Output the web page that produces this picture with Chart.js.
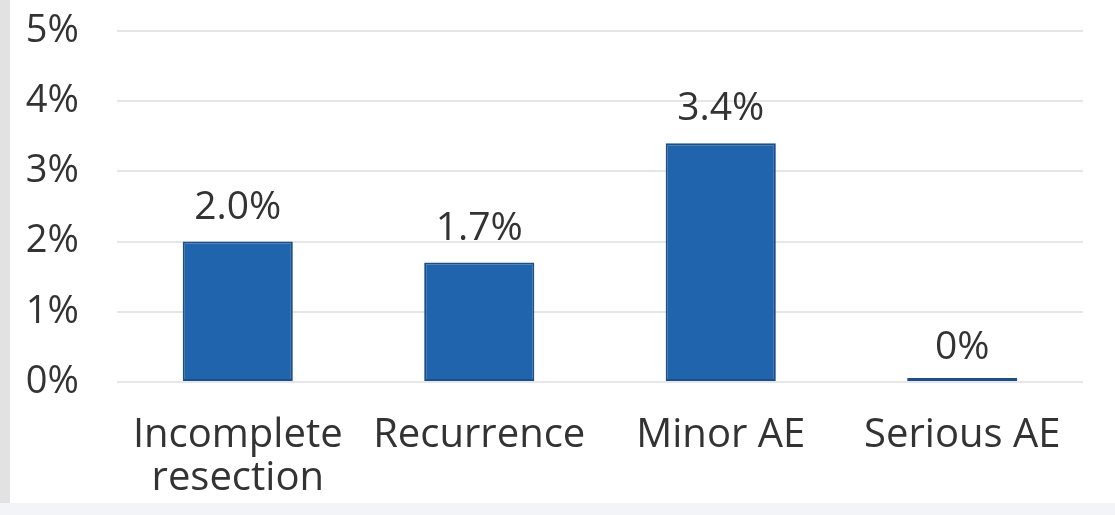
<!DOCTYPE html>
<html>
<head>
<meta charset="utf-8">
<script src="https://cdn.jsdelivr.net/npm/chart.js@4.4.1/dist/chart.umd.min.js"></script>
<style>
    html, body { margin: 0; padding: 0; background: #f3f4f8; }
    #wrap {
        position: absolute; left: 0; top: 0;
        width: 1105px; height: 503px;
        background: #fff;
        border-left: 10px solid #e2e2e2;
    }
    #chart { display: block; }
</style>
</head>
<body>
<div id="wrap"><canvas id="chart" width="1105" height="503"></canvas></div>
<script>
const categories = [['Incomplete', 'resection'], 'Recurrence', 'Minor AE', 'Serious AE'];
const rates = [2.0, 1.7, 3.4, 0];
const rateLabels = ['2.0%', '1.7%', '3.4%', '0%'];
const yTicks = [0, 1, 2, 3, 4, 5];

const fontFamily = "'Open Sans', 'DejaVu Sans', sans-serif";
const textColor = '#333';

// writes the percentage above each bar
const valueLabels = {
    id: 'valueLabels',
    afterDatasetsDraw(chart) {
        const ctx = chart.ctx;
        const meta = chart.getDatasetMeta(0);
        ctx.save();
        ctx.font = '39px ' + fontFamily;
        ctx.fillStyle = textColor;
        ctx.textAlign = 'center';
        ctx.textBaseline = 'middle';
        meta.data.forEach((bar, i) => {
            const top = chart.scales.y.getPixelForValue(rates[i]);
            ctx.fillText(rateLabels[i], bar.x, top - 34);
        });
        ctx.restore();
    }
};

const ctx = document.getElementById('chart').getContext('2d');
const chart = new Chart(ctx, {
    type: 'bar',
    data: {
        labels: categories,
        datasets: [{
            data: rates,
            backgroundColor: '#1f64ad',
            borderColor: '#1b4f8a',
            borderWidth: 2,
            borderSkipped: false,
            minBarLength: 4,
            barPercentage: 0.456,
            categoryPercentage: 1
        }]
    },
    options: {
        responsive: false,
        animation: false,
        layout: { padding: { top: 0, right: 32, bottom: 0, left: 0 } },
        plugins: {
            legend: { display: false },
            tooltip: { enabled: false }
        },
        scales: {
            x: {
                grid: { display: false, drawTicks: false },
                border: { display: false },
                ticks: {
                    padding: 32,
                    color: textColor,
                    font: { family: fontFamily, size: 40, lineHeight: 1.08 },
                    maxRotation: 0,
                    autoSkip: false
                },
                afterFit(scale) { scale.height = 121; }
            },
            y: {
                min: yTicks[0],
                max: yTicks[yTicks.length - 1],
                afterBuildTicks(scale) {
                    scale.ticks = yTicks.map(v => ({ value: v }));
                },
                // invisible tick marks push the labels left without padding the top
                grid: { color: '#e6e6e6', lineWidth: 2, drawTicks: true, tickLength: 30, tickColor: 'rgba(0,0,0,0)' },
                border: { display: false },
                ticks: {
                    padding: 8,
                    color: textColor,
                    font: { family: fontFamily, size: 38 },
                    callback: v => v + '%'
                },
                afterFit(scale) { scale.width = 107; }
            }
        }
    },
    plugins: [valueLabels]
});
</script>
</body>
</html>
